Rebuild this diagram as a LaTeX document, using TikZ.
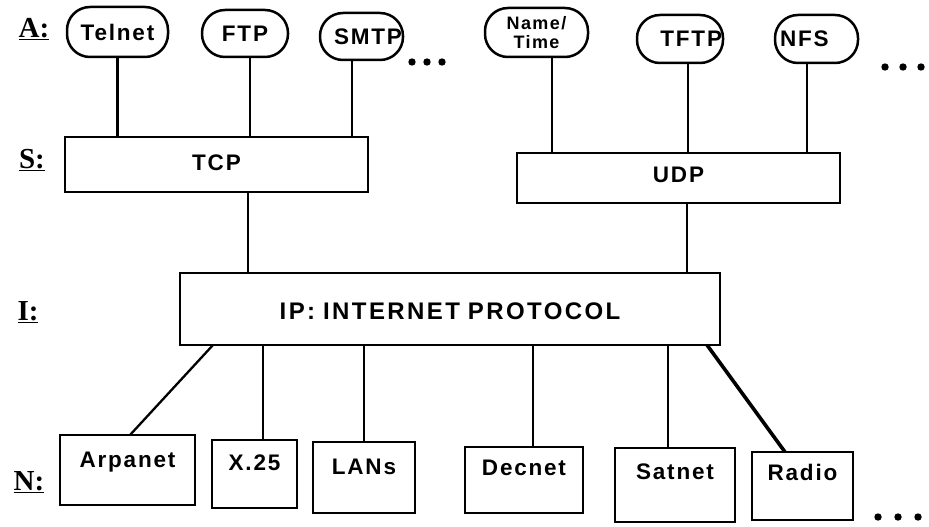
\documentclass[tikz,border=0pt]{standalone}
\usepackage{fontspec}
\setmainfont{Liberation Sans}
\newfontfamily\boxfont[LetterSpace=8]{Liberation Sans}
\newfontfamily\wideboxfont[LetterSpace=10]{Liberation Sans}
\newfontfamily\layerfont{Liberation Serif}
\usetikzlibrary{calc}
\begin{document}
\begin{tikzpicture}[x=1pt,y=-1pt,
  every node/.style={inner sep=0pt, outer sep=0pt},
  boxline/.style={line width=2.5pt},
  wire/.style={line width=2.3pt},
  heavywire/.style={line width=3.6pt},
  app/.style={draw, boxline, rounded corners=23pt, anchor=north west,
    font=\boxfont\bfseries\fontsize{22.5}{24}\selectfont},
  tier/.style={draw, boxline, anchor=north west, align=center,
    font=\boxfont\bfseries\fontsize{22.5}{24}\selectfont},
  netbox/.style={draw, boxline, anchor=north west, align=center,
    font=\boxfont\bfseries\fontsize{22.5}{24}\selectfont},
  layer/.style={font=\layerfont\bfseries\fontsize{29}{30}\selectfont},
  dot/.style={fill=black}
]
\useasboundingbox (0,0) rectangle (929,527);

% layer letters
\node[layer] (la) at (34,29) {\underline{A:}};
\node[layer] (ls) at (32,160) {\underline{S:}};
\node[layer] (li) at (28,312) {\underline{I:}};
\node[layer] (ln) at (29,482) {\underline{N:}};

% application protocols
\node[app, minimum width=101pt, minimum height=50pt] (telnet) at (67,7) {Telnet};
\node[app, minimum width=86pt, minimum height=47pt] (ftp) at (202,10) {FTP};
\node[app, minimum width=83pt, minimum height=47pt, text width=81pt, align=right] (smtp) at (320,13) {SMTP};
\node[app, minimum width=103pt, minimum height=49pt, align=center,
  font=\boxfont\bfseries\fontsize{18}{19}\selectfont] (nametime) at (485,8) {Name/\\Time};
\node[app, minimum width=86pt, minimum height=48pt, text width=84pt, align=right] (tftp) at (637,15) {TFTP};
\node[app, minimum width=83pt, minimum height=48pt, text width=79pt, align=left] (nfs) at (775,15) {\hspace*{3pt}NFS};

% transport and internet layers
\node[tier, text width=303pt, text height=33pt, text depth=22pt] (tcp) at (65,137) {TCP};
\node[tier, text width=323pt, text height=29pt, text depth=21pt] (udp) at (517,153) {UDP};
\node[tier, text width=540pt, text height=46pt, text depth=26pt,
  font=\wideboxfont\bfseries\fontsize{24}{26}\selectfont] (ip) at (180,273) {IP: INTERNET PROTOCOL};

% networks
\node[netbox, text width=135pt, text height=32pt, text depth=38pt] (arpanet) at (60,435) {Arpanet};
\node[netbox, text width=85pt, text height=30pt, text depth=38pt] (x25) at (212,440) {X.25};
\node[netbox, text width=102pt, text height=32pt, text depth=39pt] (lans) at (313,442) {LANs};
\node[netbox, text width=118pt, text height=28pt, text depth=38pt] (decnet) at (465,447) {Decnet};
\node[netbox, text width=120pt, text height=31pt, text depth=43pt] (satnet) at (615,448) {Satnet};
\node[netbox, text width=101pt, text height=28pt, text depth=40pt] (radio) at (752,452) {Radio};

% applications to TCP / UDP
\draw[wire] (telnet.south) -- (telnet.south |- tcp.north);
\draw[wire] ([xshift=5pt]ftp.south) -- ([xshift=5pt]ftp.south |- tcp.north);
\draw[wire] ([xshift=-9.5pt]smtp.south) -- ([xshift=-9.5pt]smtp.south |- tcp.north);
\draw[wire] ([xshift=15.5pt]nametime.south) -- ([xshift=15.5pt]nametime.south |- udp.north);
\draw[wire] ([xshift=8pt]tftp.south) -- ([xshift=8pt]tftp.south |- udp.north);
\draw[wire] ([xshift=-9.5pt]nfs.south) -- ([xshift=-9.5pt]nfs.south |- udp.north);

% transport to IP
\draw[wire] ([xshift=31.5pt]tcp.south) -- ([xshift=31.5pt]tcp.south |- ip.north);
\draw[wire] ([xshift=8.5pt]udp.south) -- ([xshift=8.5pt]udp.south |- ip.north);

% IP to networks
\draw[wire] ([xshift=-237pt]ip.south) -- ([xshift=2.5pt]arpanet.north);
\draw[wire] ([xshift=8.5pt]x25.north) -- ([xshift=8.5pt]x25.north |- ip.south);
\draw[wire] (lans.north) -- (lans.north |- ip.south);
\draw[wire] ([xshift=9pt]decnet.north) -- ([xshift=9pt]decnet.north |- ip.south);
\draw[wire] ([xshift=-7pt]satnet.north) -- ([xshift=-7pt]satnet.north |- ip.south);
\draw[heavywire] ([xshift=257pt]ip.south) -- ([xshift=-17.5pt]radio.north);

% continuation marks
\foreach \x in {412,427,442} \fill[dot] (\x,62) circle (3.7pt);
\foreach \x in {885,903,921} \fill[dot] (\x,67) circle (3.7pt);
\foreach \x in {878,898,918} \fill[dot] (\x,517) circle (3.7pt);
\end{tikzpicture}
\end{document}
